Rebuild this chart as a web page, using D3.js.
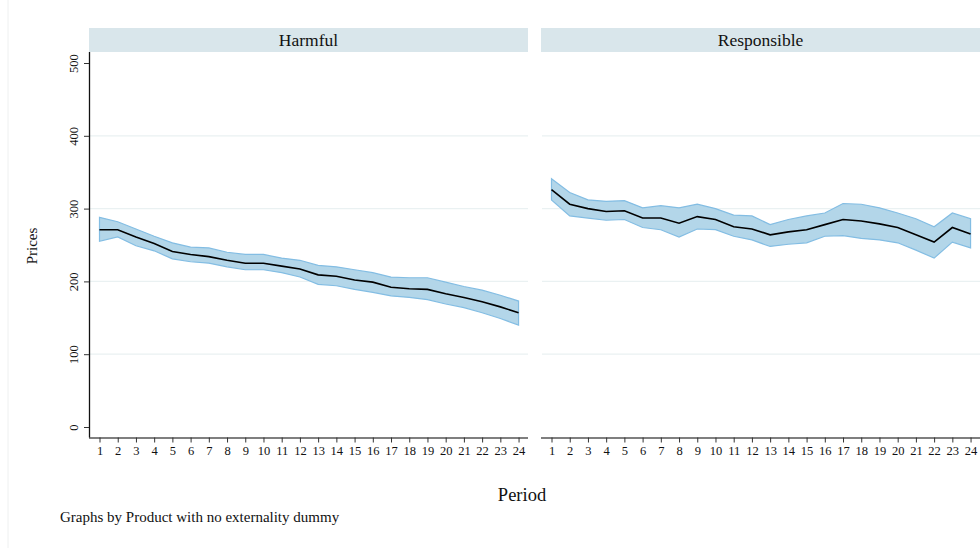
<!DOCTYPE html>
<html><head><meta charset="utf-8">
<script src="https://cdn.jsdelivr.net/npm/d3@7"></script>
<style>body{margin:0;background:#fff;}</style>
</head><body>
<svg id="chart" width="980" height="548"></svg>
<script>
const FONT = "'Liberation Serif', 'Times New Roman', Times, 'DejaVu Serif', serif";
const periods = d3.range(1, 25);
const panels = ["Harmful", "Responsible"];
const harmfulMean  = [271,271,261,252,241,237,234,229,225,225,221,217,209,207,202,199,192,190,189,183,178,172,165,157];
const harmfulUpper = [288,282,272,262,253,247,246,240,237,237,232,229,222,220,216,212,206,205,205,199,193,188,181,173];
const harmfulLower = [255,261,249,242,231,227,225,220,216,216,212,206,196,194,189,185,180,178,175,169,164,157,149,140];
const respMean  = [326,306,300,296,297,287,287,280,289,285,275,272,264,268,271,278,285,283,279,274,264,254,274,265];
const respUpper = [341,322,312,310,311,301,304,301,306,300,291,290,278,285,290,294,307,306,301,294,286,275,294,286];
const respLower = [312,290,287,284,285,274,271,261,272,271,262,257,248,251,253,262,263,259,257,253,243,232,254,246];
const yTicks = [0, 100, 200, 300, 400, 500];
const gridTicks = [100, 200, 300, 400];

const seriesByPanel = {
  Harmful: {mean: harmfulMean, upper: harmfulUpper, lower: harmfulLower},
  Responsible: {mean: respMean, upper: respUpper, lower: respLower}
};

const svg = d3.select("#chart").attr("font-family", FONT);
svg.append("line").attr("x1", 8).attr("x2", 8).attr("y1", 0).attr("y2", 548)
  .attr("stroke", "#eef0f0").attr("stroke-width", 1);

const plotTop = 52, plotBottom = 437.5;
const panelX = [89, 541];
const panelW = 439;
const y = d3.scaleLinear().domain([0, 500]).range([427, 63]);

panels.forEach((name, pi) => {
  const x0 = panelX[pi];
  const x = d3.scaleLinear().domain([1, 24]).range([x0 + 10.5, x0 + 10.5 + 23 * 18.22]);
  const g = svg.append("g");
  g.append("rect").attr("x", x0).attr("y", 28).attr("width", panelW).attr("height", 24)
    .attr("fill", "#d9e6eb");
  g.append("text").attr("x", x0 + panelW / 2).attr("y", 46).attr("text-anchor", "middle")
    .attr("font-family", FONT).attr("font-size", 17.5).attr("fill", "#111").text(name);
  g.selectAll(".grid").data(gridTicks).enter().append("line")
    .attr("x1", x0 + 1).attr("x2", x0 + panelW).attr("y1", d => y(d)).attr("y2", d => y(d))
    .attr("stroke", "#eaf1f2").attr("stroke-width", 1.3);
  const s = seriesByPanel[name];
  const band = d3.area().x((d, i) => x(periods[i])).y0((d, i) => y(s.lower[i])).y1((d, i) => y(s.upper[i]));
  g.append("path").datum(s.mean).attr("d", band)
    .attr("fill", "#b3d6e9").attr("stroke", "#83bde3").attr("stroke-width", 1.2);
  const line = d3.line().x((d, i) => x(periods[i])).y(d => y(d));
  g.append("path").datum(s.mean).attr("d", line).attr("fill", "none")
    .attr("stroke", "#000").attr("stroke-width", 1.6);
  const xAxis = d3.axisBottom(x).tickValues(periods).tickSize(5).tickPadding(4).tickSizeOuter(0);
  const ax = g.append("g").attr("transform", `translate(0,${plotBottom})`).call(xAxis)
    .attr("font-family", FONT);
  ax.select(".domain").attr("d", `M${x0},0.5H${x0 + panelW}`).attr("stroke", "#555").attr("stroke-width", 1.5);
  ax.selectAll(".tick line").attr("stroke", "#333");
  ax.selectAll(".tick text").attr("font-size", 12.5).attr("font-family", FONT).attr("fill", "#111");
  if (pi === 0) {
    const yAxis = d3.axisLeft(y).tickValues(yTicks).tickSize(5).tickPadding(6).tickSizeOuter(0);
    const ay = g.append("g").attr("transform", `translate(${x0},0)`).call(yAxis)
      .attr("font-family", FONT);
    ay.select(".domain").attr("d", `M0.5,${plotTop}V${plotBottom}`).attr("stroke", "#111").attr("stroke-width", 1.3);
    ay.selectAll(".tick line").attr("stroke", "#333");
    ay.selectAll(".tick text").attr("font-size", 12.5).attr("font-family", FONT).attr("fill", "#111")
      .attr("text-anchor", "middle").attr("x", 0).attr("y", 0).attr("dy", "0.32em")
      .attr("transform", "translate(-15,0) rotate(-90)");
  }
});

svg.append("text").attr("transform", "translate(37,246) rotate(-90)").attr("text-anchor", "middle")
  .attr("font-family", FONT).attr("font-size", 15).attr("fill", "#111").text("Prices");
svg.append("text").attr("x", 522).attr("y", 501).attr("text-anchor", "middle")
  .attr("font-family", FONT).attr("font-size", 18.5).attr("fill", "#111").text("Period");
svg.append("text").attr("x", 60).attr("y", 522).attr("font-family", FONT).attr("font-size", 15).attr("fill", "#111")
  .text("Graphs by Product with no externality dummy");
</script>
</body></html>
